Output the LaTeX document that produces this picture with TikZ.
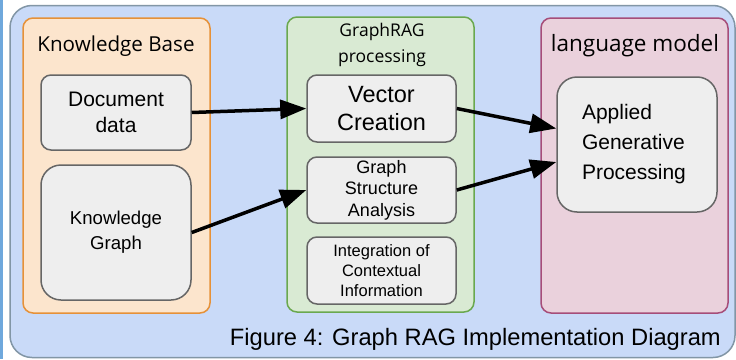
\documentclass[tikz,border=0pt]{standalone}
\usepackage{fontspec}
\setmainfont{Liberation Sans}
\newfontfamily\labelfont{Open Sans}
\usetikzlibrary{arrows.meta}
\definecolor{outerfill}{HTML}{C9DAF8}
\definecolor{outerdraw}{HTML}{8296A6}
\definecolor{kbfill}{HTML}{FCE5CD}
\definecolor{kbdraw}{HTML}{E69138}
\definecolor{grfill}{HTML}{D9EAD3}
\definecolor{grdraw}{HTML}{6AA84F}
\definecolor{lmfill}{HTML}{EAD1DC}
\definecolor{lmdraw}{HTML}{A64D79}
\definecolor{boxfill}{HTML}{EEEEEE}
\definecolor{boxdraw}{HTML}{666666}
\definecolor{strip}{HTML}{6FA8DC}
\tikzset{
  container/.style={rectangle, rounded corners=10pt, line width=1.5pt, inner sep=0pt},
  procbox/.style={rectangle, rounded corners=10pt, draw=boxdraw, fill=boxfill, line width=1.5pt, inner sep=0pt, align=center, text=black},
  lbl/.style={inner sep=0pt, text=black},
  flow/.style={line width=3.5pt, -{Triangle[length=26pt,width=19pt]}},
}
\begin{document}
\begin{tikzpicture}[x=1pt,y=-1pt]
\useasboundingbox (0,0) rectangle (736,359);
\fill[white] (0,0) rectangle (736,359);
\fill[strip] (0,0) rectangle (3,359);
\node[container, rounded corners=22pt, draw=outerdraw, fill=outerfill, minimum width=725pt, minimum height=352pt] (outer) at (372.5,181.5) {};
% containers
\node[container, draw=kbdraw, fill=kbfill, minimum width=187pt, minimum height=295pt] (kb) at (116.5,165.5) {};
\node[lbl, font=\labelfont\fontsize{20.6}{24}\selectfont] (kbl) at (116,46) {Knowledge Base};
\node[container, draw=grdraw, fill=grfill, minimum width=187pt, minimum height=295pt] (gr) at (380.5,164.5) {};
\node[lbl, align=center, font=\labelfont\fontsize{17.5}{26}\selectfont] (grl) at (382,45) {GraphRAG\\processing};
\node[container, draw=lmdraw, fill=lmfill, minimum width=187pt, minimum height=295pt] (lm) at (634.5,165.5) {};
\node[lbl, font=\labelfont\fontsize{22.5}{26}\selectfont] (lml) at (635,46) {language model};
% process boxes
\node[procbox, minimum width=150pt, minimum height=75pt, font=\fontsize{21}{26}\selectfont] (doc) at (116,112.5) {Document\\data};
\node[procbox, rounded corners=20pt, minimum width=150pt, minimum height=135pt, font=\fontsize{18.6}{25}\selectfont] (kg) at (116,232.5) {Knowledge\\Graph};
\node[procbox, minimum width=149pt, minimum height=67pt, font=\fontsize{23.5}{28}\selectfont] (vec) at (381.5,108.5) {Vector\\Creation};
\node[procbox, minimum width=149pt, minimum height=66pt, font=\fontsize{18}{21.5}\selectfont] (gsa) at (381.5,190) {Graph\\Structure\\Analysis};
\node[procbox, minimum width=149pt, minimum height=67pt, font=\fontsize{16.5}{20}\selectfont] (info) at (381.5,270.5) {Integration of\\Contextual\\Information};
\node[procbox, rounded corners=20pt, minimum width=160pt, minimum height=135pt, align=left, text width=110pt, font=\fontsize{21}{30}\selectfont] (app) at (637,144.5) {Applied\\Generative\\Processing};
% connectors
\coordinate (appin1) at ([yshift=16pt]app.west);
\coordinate (appin2) at ([yshift=-17.5pt]app.west);
\draw[flow] (doc.east) -- (vec.west);
\draw[flow] (kg.east) -- (gsa.west);
\draw[flow] (vec.east) -- (appin1);
\draw[flow] (gsa.east) -- (appin2);
% caption
\node[lbl, anchor=base east, font=\fontsize{23.7}{28}\selectfont] (cap) at (721,345) {Figure 4: Graph RAG Implementation Diagram};
\end{tikzpicture}
\end{document}
